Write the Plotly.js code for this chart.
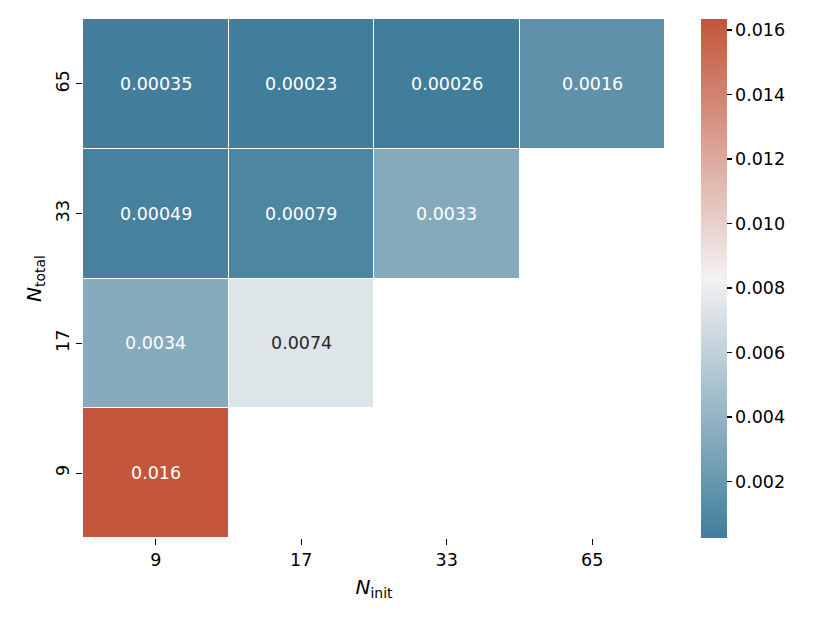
<!DOCTYPE html>
<html>
<head>
<meta charset="utf-8">
<script src="https://cdn.plot.ly/plotly-3.0.1.min.js"></script>
<style>html,body{margin:0;padding:0;background:#fff;}</style>
</head>
<body>
<div id="chart" style="width:830px;height:623px;"></div>
<script>
// Data
const nInit = ['9', '17', '33', '65'];
const nTotal = ['9', '17', '33', '65'];
const row9  = [0.0163, null, null, null];
const row17 = [0.0034, 0.0074, null, null];
const row33 = [0.00049, 0.00079, 0.0033, null];
const row65 = [0.00035, 0.00023, 0.00026, 0.0016];
const zRows = [row9, row17, row33, row65];
const cbTicks = [0.002, 0.004, 0.006, 0.008, 0.010, 0.012, 0.014, 0.016];
const cbTickText = ['0.002', '0.004', '0.006', '0.008', '0.010', '0.012', '0.014', '0.016'];

const zMin = 0.00025, zMax = 0.01634;
const cLow = [65, 126, 155], cMid = [242, 242, 242], cHigh = [195, 85, 58];
const rgb = c => 'rgb(' + c.join(',') + ')';
const colorscale = [[0, rgb(cLow)], [0.5, rgb(cMid)], [1, rgb(cHigh)]];

function colorAt(v) {
  let t = (v - zMin) / (zMax - zMin);
  t = Math.max(0, Math.min(1, t));
  let a, b, u;
  if (t < 0.5) { a = cLow; b = cMid; u = t / 0.5; } else { a = cMid; b = cHigh; u = (t - 0.5) / 0.5; }
  return a.map((x, i) => x + (b[i] - x) * u);
}
function lum(c) {
  const f = x => { x /= 255; return x <= 0.03928 ? x / 12.92 : Math.pow((x + 0.055) / 1.055, 2.4); };
  return 0.2126 * f(c[0]) + 0.7152 * f(c[1]) + 0.0722 * f(c[2]);
}

const annotations = [];
zRows.forEach((row, yi) => {
  row.forEach((v, xi) => {
    if (v === null) return;
    const txt = Number(v.toPrecision(2)).toString();
    annotations.push({
      x: xi, y: yi, xref: 'x', yref: 'y',
      text: txt, showarrow: false,
      font: {family: 'DejaVu Sans', size: 17.5, color: lum(colorAt(v)) > 0.408 ? '#262626' : '#ffffff'}
    });
  });
});

const trace = {
  type: 'heatmap',
  x: nInit, y: nTotal, z: zRows,
  colorscale: colorscale, zmin: zMin, zmax: zMax,
  xgap: 1, ygap: 1,
  hoverongaps: false,
  colorbar: {
    x: 1.062, xanchor: 'left', xref: 'paper',
    y: 0.5, yanchor: 'middle', len: 1, lenmode: 'fraction',
    thickness: 26, outlinewidth: 0, xpad: 0, ypad: 0,
    ticks: 'outside', ticklen: 5, tickwidth: 1.2, tickcolor: '#000',
    tickvals: cbTicks, ticktext: cbTickText,
    tickfont: {family: 'DejaVu Sans', size: 17.5, color: '#000'}
  }
};

const layout = {
  width: 830, height: 623,
  margin: {l: 83, r: 165, t: 19, b: 85, autoexpand: false},
  paper_bgcolor: '#fff', plot_bgcolor: '#fff',
  font: {family: 'DejaVu Sans', size: 17, color: '#000'},
  xaxis: {
    type: 'category', range: [-0.5, 3.5], autorange: false,
    showgrid: false, zeroline: false, showline: false, automargin: false,
    ticks: 'outside', ticklen: 6, tickwidth: 1.2, tickcolor: '#000',
    tickfont: {family: 'DejaVu Sans', size: 17.5, color: '#000'},
    title: {text: '<i>N</i><sub>init</sub>', font: {family: 'DejaVu Sans', size: 20, color: '#000'}, standoff: 10}
  },
  yaxis: {
    type: 'category', range: [-0.5, 3.5], autorange: false,
    showgrid: false, zeroline: false, showline: false, automargin: false,
    ticks: 'outside', ticklen: 6, tickwidth: 1.2, tickcolor: '#000', tickangle: -90,
    tickfont: {family: 'DejaVu Sans', size: 17.5, color: '#000'},
    title: {text: '<i>N</i><sub>total</sub>', font: {family: 'DejaVu Sans', size: 20, color: '#000'}, standoff: 6}
  },
  annotations: annotations
};

Plotly.newPlot('chart', [trace], layout, {displayModeBar: false, staticPlot: true});
</script>
</body>
</html>
